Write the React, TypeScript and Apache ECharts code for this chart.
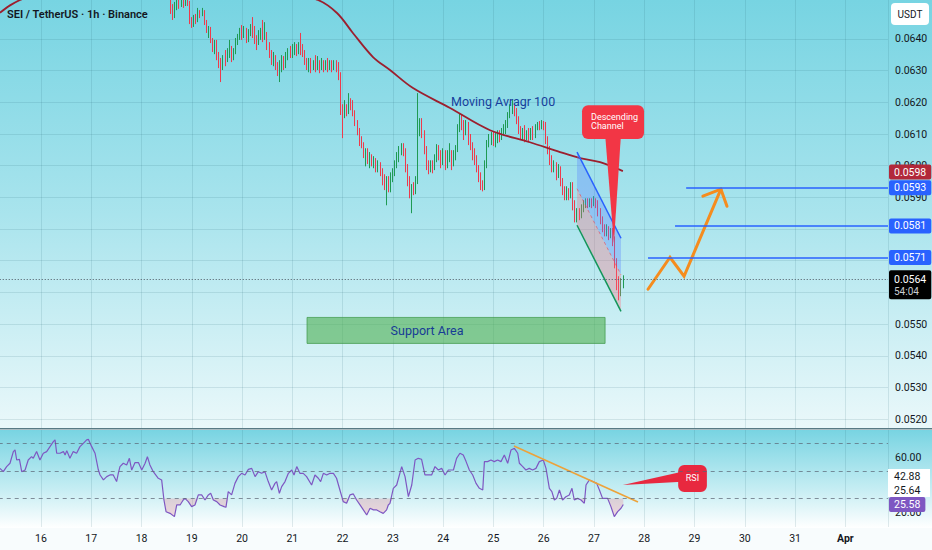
import React, { useEffect, useRef } from "react";
import * as echarts from "echarts";

// Time is measured in hours since 15 March 00:00 (1h candles).
const START_HOUR = 86;
const PRICE_UNIT = 1e-5;
// [open, close, low, high] in units of 0.00001 USDT
const CANDLES: number[][] = [
  [6517, 6498, 6479, 6539], [6498, 6479, 6460, 6510], [6479, 6504, 6466, 6517], [6504, 6514, 6491, 6529],
  [6514, 6507, 6495, 6523], [6507, 6517, 6501, 6532], [6517, 6510, 6498, 6526], [6510, 6520, 6504, 6536],
  [6520, 6514, 6504, 6532], [6514, 6460, 6447, 6520], [6460, 6444, 6435, 6469], [6444, 6466, 6438, 6476],
  [6466, 6460, 6447, 6479], [6460, 6485, 6453, 6498], [6485, 6479, 6466, 6491], [6479, 6485, 6472, 6498],
  [6485, 6453, 6444, 6491], [6453, 6428, 6419, 6460], [6428, 6435, 6403, 6441], [6435, 6397, 6387, 6438],
  [6397, 6371, 6359, 6403], [6371, 6390, 6352, 6397], [6390, 6349, 6333, 6397], [6349, 6327, 6308, 6359],
  [6327, 6314, 6264, 6340], [6314, 6340, 6302, 6349], [6340, 6333, 6314, 6365], [6333, 6359, 6327, 6371],
  [6359, 6365, 6340, 6397], [6365, 6340, 6327, 6378], [6340, 6359, 6333, 6371], [6359, 6390, 6352, 6403],
  [6390, 6403, 6381, 6416], [6403, 6422, 6397, 6435], [6422, 6412, 6397, 6444], [6412, 6428, 6403, 6441],
  [6428, 6397, 6387, 6435], [6397, 6419, 6390, 6431], [6419, 6435, 6409, 6447], [6435, 6428, 6403, 6469],
  [6428, 6397, 6384, 6441], [6397, 6390, 6365, 6412], [6390, 6412, 6381, 6428], [6412, 6422, 6397, 6435],
  [6422, 6403, 6390, 6460], [6403, 6416, 6397, 6453], [6416, 6381, 6365, 6422], [6381, 6349, 6340, 6390],
  [6349, 6327, 6318, 6365], [6327, 6340, 6314, 6359], [6340, 6314, 6302, 6349], [6314, 6302, 6283, 6327],
  [6302, 6314, 6264, 6333], [6314, 6333, 6295, 6349], [6333, 6318, 6302, 6346], [6318, 6346, 6308, 6359],
  [6346, 6359, 6333, 6371], [6359, 6349, 6340, 6378], [6349, 6365, 6340, 6384], [6365, 6371, 6349, 6390],
  [6371, 6359, 6346, 6384], [6359, 6374, 6352, 6390], [6374, 6365, 6349, 6419], [6365, 6356, 6343, 6384],
  [6356, 6327, 6318, 6365], [6327, 6318, 6302, 6340], [6318, 6330, 6295, 6340], [6330, 6308, 6292, 6340],
  [6308, 6324, 6302, 6333], [6324, 6314, 6295, 6349], [6314, 6327, 6302, 6346], [6327, 6311, 6292, 6333],
  [6311, 6324, 6302, 6340], [6324, 6311, 6295, 6333], [6311, 6327, 6302, 6333], [6327, 6314, 6295, 6340],
  [6314, 6324, 6302, 6333], [6324, 6308, 6295, 6333], [6308, 6321, 6302, 6333], [6321, 6314, 6295, 6333],
  [6314, 6286, 6270, 6327], [6286, 6175, 6160, 6295], [6175, 6160, 6087, 6194], [6160, 6182, 6150, 6207],
  [6182, 6169, 6156, 6194], [6169, 6201, 6163, 6229], [6201, 6194, 6175, 6213], [6194, 6169, 6156, 6207],
  [6169, 6138, 6125, 6175], [6138, 6106, 6096, 6144], [6106, 6081, 6062, 6119], [6081, 6065, 6055, 6093],
  [6065, 6033, 6024, 6074], [6033, 6043, 5998, 6055], [6043, 6017, 6005, 6055], [6017, 6024, 5992, 6043],
  [6024, 6011, 5998, 6036], [6011, 6017, 5992, 6030], [6017, 5992, 5979, 6024], [5992, 6002, 5979, 6017],
  [6002, 5979, 5967, 6011], [5979, 5961, 5938, 5992], [5961, 5938, 5923, 5973], [5938, 5954, 5875, 5967],
  [5954, 5929, 5916, 5967], [5929, 5961, 5916, 5979], [5961, 5979, 5948, 5992], [5979, 6002, 5967, 6017],
  [6002, 6024, 5992, 6043], [6024, 6049, 6011, 6062], [6049, 6062, 6033, 6071], [6062, 6043, 6030, 6071],
  [6043, 5992, 5979, 6055], [5992, 5954, 5935, 6005], [5954, 5916, 5897, 5967], [5916, 5929, 5850, 5942],
  [5929, 5923, 5907, 5948], [5923, 5954, 5910, 5967], [5954, 6112, 5942, 6229], [6112, 6119, 6093, 6150],
  [6119, 6100, 6087, 6150], [6100, 6049, 6036, 6112], [6049, 6002, 5986, 6062], [6002, 5992, 5973, 6017],
  [5992, 6002, 5979, 6017], [6002, 5992, 5976, 6017], [5992, 6024, 5986, 6036], [6024, 6055, 6011, 6068],
  [6055, 6033, 6017, 6065], [6033, 6017, 5992, 6049], [6017, 6043, 6002, 6055], [6043, 6002, 5986, 6049],
  [6002, 6024, 5992, 6049], [6024, 6033, 6011, 6071], [6033, 6011, 5986, 6049], [6011, 6033, 5998, 6049],
  [6033, 6049, 6017, 6065], [6049, 6119, 6043, 6131], [6119, 6150, 6106, 6166], [6150, 6128, 6112, 6163],
  [6128, 6112, 6081, 6144], [6112, 6125, 6096, 6144], [6125, 6087, 6065, 6138], [6087, 6065, 6049, 6100],
  [6065, 6043, 6017, 6074], [6043, 6017, 6002, 6055], [6017, 5992, 5979, 6033], [5992, 5970, 5948, 6002],
  [5970, 5935, 5923, 5979], [5935, 5929, 5919, 5954], [5929, 6002, 5923, 6017], [6002, 6071, 5992, 6081],
  [6071, 6081, 6058, 6100], [6081, 6093, 6065, 6106], [6093, 6074, 6062, 6106], [6074, 6087, 6058, 6103],
  [6087, 6096, 6071, 6112], [6096, 6087, 6074, 6112], [6087, 6106, 6081, 6119], [6106, 6119, 6096, 6131],
  [6119, 6128, 6100, 6144], [6128, 6160, 6119, 6169], [6160, 6175, 6150, 6194], [6175, 6182, 6163, 6207],
  [6182, 6169, 6156, 6194], [6169, 6144, 6131, 6182], [6144, 6112, 6100, 6156], [6112, 6093, 6081, 6125],
  [6093, 6106, 6081, 6119], [6106, 6087, 6074, 6128], [6087, 6100, 6081, 6112], [6100, 6087, 6074, 6119],
  [6087, 6106, 6081, 6119], [6106, 6093, 6081, 6125], [6093, 6119, 6087, 6131], [6119, 6128, 6112, 6138],
  [6128, 6122, 6112, 6141], [6122, 6131, 6115, 6144], [6131, 6125, 6112, 6141], [6125, 6081, 6068, 6138],
  [6081, 6049, 6036, 6093], [6049, 6017, 6002, 6062], [6017, 5992, 5979, 6033], [5992, 6002, 5979, 6017],
  [6002, 5970, 5954, 6011], [5970, 5986, 5961, 6005], [5986, 5948, 5935, 5998], [5948, 5923, 5907, 5961],
  [5923, 5907, 5891, 5935], [5907, 5916, 5891, 5935], [5916, 5907, 5891, 5929], [5907, 5938, 5897, 5948],
  [5938, 5875, 5859, 5948], [5875, 5834, 5821, 5891], [5834, 5853, 5821, 5866], [5853, 5844, 5828, 5866],
  [5844, 5859, 5834, 5878], [5859, 5878, 5853, 5891], [5878, 5885, 5866, 5897], [5885, 5875, 5866, 5897],
  [5875, 5885, 5869, 5897], [5885, 5878, 5866, 5897], [5878, 5885, 5872, 5904], [5885, 5875, 5866, 5897],
  [5875, 5853, 5840, 5891], [5853, 5828, 5815, 5866], [5828, 5803, 5790, 5840], [5803, 5790, 5777, 5815],
  [5790, 5803, 5777, 5815], [5803, 5781, 5765, 5809], [5781, 5790, 5771, 5803], [5790, 5765, 5746, 5803],
  [5765, 5695, 5676, 5777], [5695, 5622, 5607, 5708], [5622, 5607, 5575, 5651], [5607, 5629, 5588, 5645],
  [5629, 5640, 5613, 5654],
];

// Moving average 100 (hour, price)
const MA100: number[][] = [
  [4.4, 0.06483], [9.2, 0.06506], [14.0, 0.06523], [30, 0.0657], [60, 0.0661], [100, 0.0661],
  [130, 0.06575], [156.2, 0.06523], [165.3, 0.06482], [172.9, 0.06419], [182.5, 0.06343],
  [190.6, 0.06302], [201.6, 0.06245], [219.3, 0.06182], [238.4, 0.06112], [257.4, 0.06074],
  [271.8, 0.06043], [281.3, 0.06024], [290.9, 0.06011], [301.8, 0.05983],
];

// RSI 14 (hour, value)
const RSI: number[][] = [
  [4.4, 51.9], [6.0, 49.5], [7.6, 53.2], [9.2, 55.6], [10.8, 64.1], [11.6, 65.3], [12.4, 58.0], [13.7, 58.5],
  [14.8, 49.5], [16.4, 50.7], [17.9, 58.0], [19.5, 60.4], [20.3, 59.2], [21.9, 64.1], [23.5, 58.0], [25.1, 62.9],
  [26.7, 64.1], [28.3, 67.7], [29.9, 71.3], [30.7, 72.6], [31.5, 62.9], [33.1, 62.9], [34.7, 64.1], [35.5, 61.6],
  [36.3, 64.8], [37.8, 59.2], [39.4, 64.1], [41.0, 62.9], [42.6, 67.7], [44.2, 70.1], [45.8, 72.6], [46.6, 73.0],
  [48.2, 67.7], [49.8, 62.9], [51.4, 50.7], [52.2, 47.1], [53.8, 43.5], [55.4, 45.9], [56.9, 47.1], [58.5, 47.1],
  [60.1, 42.3], [60.9, 48.3], [61.7, 53.2], [63.3, 55.6], [64.9, 54.4], [66.2, 59.2], [67.3, 50.7], [68.9, 56.1],
  [70.5, 56.1], [72.1, 50.7], [73.7, 55.6], [74.8, 60.4], [76.0, 54.4], [77.6, 49.5], [80.0, 44.7], [81.6, 43.5],
  [82.7, 28.9], [83.7, 20.4], [85.6, 19.2], [87.7, 16.8], [88.8, 25.3], [90.4, 25.3], [91.9, 28.9], [92.7, 30.1],
  [94.3, 27.7], [95.9, 24.1], [97.5, 25.3], [99.1, 32.6], [100.7, 32.6], [102.3, 28.9], [103.9, 32.6], [105.0, 33.8],
  [106.3, 28.9], [107.9, 27.7], [109.5, 25.3], [111.4, 24.1], [112.3, 23.6], [113.4, 35.0], [115.0, 32.6], [116.6, 41.0],
  [118.2, 45.9], [119.8, 48.3], [121.4, 47.1], [123.0, 51.2], [124.6, 51.9], [126.2, 45.9], [127.8, 49.5], [129.3, 48.3],
  [130.9, 49.5], [132.5, 42.3], [134.1, 36.2], [135.7, 41.0], [136.5, 42.3], [137.8, 33.8], [138.9, 38.6], [140.5, 42.3],
  [142.1, 48.3], [143.7, 50.7], [144.8, 47.1], [146.1, 53.2], [147.6, 48.3], [149.2, 48.3], [150.8, 45.9], [153.2, 39.8],
  [154.8, 47.1], [156.4, 44.7], [157.5, 42.3], [158.8, 48.3], [160.4, 47.1], [162.0, 48.3], [163.6, 48.3], [165.1, 44.7],
  [166.7, 36.2], [168.3, 27.7], [169.9, 26.5], [171.5, 32.6], [173.1, 33.3], [174.7, 28.9], [176.3, 25.3], [177.9, 21.7],
  [179.5, 18.0], [181.1, 22.9], [182.7, 21.7], [184.3, 21.7], [185.8, 20.4], [187.4, 19.2], [189.0, 21.7], [189.8, 25.3],
  [190.6, 26.5], [192.2, 37.4], [193.8, 39.8], [196.2, 53.2], [197.8, 45.9], [199.4, 31.3], [201.0, 39.8], [202.6, 58.0],
  [204.1, 59.2], [205.7, 58.5], [207.3, 47.1], [208.9, 47.1], [210.5, 47.1], [212.1, 53.2], [213.7, 50.7], [215.3, 51.9],
  [216.9, 47.1], [218.5, 50.7], [220.9, 50.7], [222.4, 59.2], [224.0, 62.9], [225.6, 61.6], [226.9, 57.0], [228.5, 50.7],
  [230.1, 47.1], [231.7, 41.0], [233.3, 37.4], [234.9, 36.2], [235.7, 56.8], [237.2, 56.8], [238.8, 58.0], [240.4, 56.8],
  [242.0, 58.0], [243.6, 56.8], [245.2, 61.6], [246.8, 55.6], [248.4, 65.3], [250.0, 66.5], [251.6, 62.9], [252.4, 55.6],
  [254.0, 53.2], [255.5, 50.7], [257.1, 51.9], [258.7, 50.7], [260.3, 51.9], [261.9, 56.8], [263.8, 58.0], [265.1, 51.9],
  [266.7, 37.4], [267.9, 35.0], [269.1, 28.9], [270.2, 30.1], [271.5, 36.2], [273.0, 28.9], [274.6, 31.3], [276.2, 32.6],
  [277.5, 37.4], [278.6, 28.9], [280.2, 30.1], [281.8, 28.9], [283.4, 26.5], [284.2, 39.8], [285.8, 43.5], [287.4, 42.3],
  [289.3, 41.0], [290.6, 36.2], [292.1, 30.1], [294.5, 30.1], [296.1, 24.1], [297.7, 16.8], [299.3, 20.4], [300.9, 22.9],
  [302.0, 25.6],
];

const PRICE_TICKS = [0.052, 0.053, 0.054, 0.055, 0.056, 0.057, 0.058, 0.059, 0.06, 0.061, 0.062, 0.063, 0.064];
const RSI_TICKS = [20, 60];
const RSI_LEVELS = [70, 50, 30];
const RSI_OVERSOLD = 30;
const RSI_LAST = 25.58;
const RSI_SIDE_LABELS = ["42.88", "25.64"];
const CURRENT_PRICE = 0.0564;
const COUNTDOWN = "54:04";
const MA_LAST = 0.0598;
const TARGETS = [
  { price: 0.0593, from: 332.0 },
  { price: 0.0581, from: 326.7 },
  { price: 0.0571, from: 313.8 },
];
const PROJECTION: number[][] = [[313.8, 0.0561], [324.3, 0.05711], [331.0, 0.05651], [348.6, 0.05926]];
const PROJECTION_HEAD: number[][] = [[340.0, 0.05904], [348.6, 0.05926], [351.5, 0.05872]];
const CHANNEL_TOP: number[][] = [[279.9, 0.06043], [300.9, 0.05771]];
const CHANNEL_BOTTOM: number[][] = [[279.9, 0.05812], [300.9, 0.0554]];
const SUPPORT = { from: 151.0, to: 293.3, top: 0.05521, bottom: 0.05439, label: "Support Area", labelAt: [208.3, 0.05481] };
const MA_NOTE = { text: "Moving Avragr 100", at: [244.6, 0.06204] };
const CHANNEL_CALLOUT = {
  text: "Descending\nChannel", from: 282.3, to: 311.9, top: 0.06191, bottom: 0.06084,
  textAt: [286.6, 0.06139], base: [[293.3, 0.061], [300.9, 0.061]], tip: [297.5, 0.05755],
};
const RSI_TREND: number[][] = [[249.8, 68.2], [309.0, 27.5]];
const RSI_CALLOUT = {
  text: "RSI", from: 328.2, to: 341.9, top: 54.4, bottom: 34.7, textAt: [335.0, 44.9],
  base: [[330.0, 49.5], [330.0, 42.2]], tip: [301.8, 39.8],
};

// axis extents (layout)
const X_MAX = 428.37;
const Y_MIN = 0.05172;
const Y_MAX = 0.06523;
const RSI_MIN = 9.27;
const RSI_MAX = 79.8;

const FONT = 'Roboto, "Noto Sans", sans-serif';
const UP = "#1f9a53";
const DOWN = "#ee3a4c";
const GRID_LINE = "rgba(30,90,110,0.13)";
const HIDDEN_LINE = { color: "rgba(0,0,0,0)", width: 1, type: "solid" };

function mainAnnotations(_params: any, api: any) {
  const c = (p: number[]) => api.coord(p);
  const tl = c(CHANNEL_TOP[0]);
  const tr = c(CHANNEL_TOP[1]);
  const bl = c(CHANNEL_BOTTOM[0]);
  const br = c(CHANNEL_BOTTOM[1]);
  const ml = [(tl[0] + bl[0]) / 2, (tl[1] + bl[1]) / 2];
  const mr = [(tr[0] + br[0]) / 2, (tr[1] + br[1]) / 2];
  const s1 = c([SUPPORT.from, SUPPORT.top]);
  const s2 = c([SUPPORT.to, SUPPORT.bottom]);
  const sl = c(SUPPORT.labelAt);
  const mn = c(MA_NOTE.at);
  const k1 = c([CHANNEL_CALLOUT.from, CHANNEL_CALLOUT.top]);
  const k2 = c([CHANNEL_CALLOUT.to, CHANNEL_CALLOUT.bottom]);
  const kt = c(CHANNEL_CALLOUT.textAt);
  return {
    type: "group",
    children: [
      { type: "polygon", shape: { points: [tl, tr, mr, ml] }, style: { fill: "rgba(90,130,255,0.33)" } },
      { type: "polygon", shape: { points: [ml, mr, br, bl] }, style: { fill: "rgba(255,110,125,0.32)" } },
      { type: "line", shape: { x1: tl[0], y1: tl[1], x2: tr[0], y2: tr[1] }, style: { stroke: "#2962ff", lineWidth: 1.5 } },
      { type: "line", shape: { x1: bl[0], y1: bl[1], x2: br[0], y2: br[1] }, style: { stroke: "#12965a", lineWidth: 1.5 } },
      { type: "line", shape: { x1: ml[0], y1: ml[1], x2: mr[0], y2: mr[1] }, style: { stroke: "rgba(242,54,69,0.55)", lineWidth: 1, lineDash: [3, 3] } },
      {
        type: "rect",
        shape: { x: s1[0], y: s1[1], width: s2[0] - s1[0], height: s2[1] - s1[1] },
        style: { fill: "rgba(76,175,80,0.6)", stroke: "rgba(60,150,70,0.7)", lineWidth: 1 },
      },
      {
        type: "text", x: sl[0], y: sl[1],
        style: { text: SUPPORT.label, fill: "#173c95", fontSize: 12.5, fontFamily: FONT, align: "center", verticalAlign: "middle", textAlign: "center", textVerticalAlign: "middle" },
      },
      {
        type: "text", x: mn[0], y: mn[1],
        style: { text: MA_NOTE.text, fill: "#173f9c", fontSize: 12.5, fontFamily: FONT, align: "center", verticalAlign: "middle", textAlign: "center", textVerticalAlign: "middle" },
      },
      {
        type: "polyline", shape: { points: PROJECTION.map(c) },
        style: { stroke: "#f58c1e", lineWidth: 3, fill: "none", lineJoin: "miter", lineCap: "round" },
      },
      {
        type: "polyline", shape: { points: PROJECTION_HEAD.map(c) },
        style: { stroke: "#f58c1e", lineWidth: 3, fill: "none", lineJoin: "miter", lineCap: "round" },
      },
      {
        type: "polygon",
        shape: { points: [c(CHANNEL_CALLOUT.base[0]), c(CHANNEL_CALLOUT.base[1]), c(CHANNEL_CALLOUT.tip)] },
        style: { fill: "#f23645" },
      },
      {
        type: "rect",
        shape: { x: k1[0], y: k1[1], width: k2[0] - k1[0], height: k2[1] - k1[1], r: 6 },
        style: { fill: "#f23645" },
      },
      {
        type: "text", x: kt[0], y: kt[1],
        style: { text: CHANNEL_CALLOUT.text, fill: "#ffffff", fontSize: 9, lineHeight: 9.5, fontFamily: FONT, align: "left", verticalAlign: "middle", textAlign: "left", textVerticalAlign: "middle" },
      },
    ],
  };
}

function rsiAnnotations(_params: any, api: any) {
  const c = (p: number[]) => api.coord(p);
  const a = c(RSI_TREND[0]);
  const b = c(RSI_TREND[1]);
  const r1 = c([RSI_CALLOUT.from, RSI_CALLOUT.top]);
  const r2 = c([RSI_CALLOUT.to, RSI_CALLOUT.bottom]);
  const rt = c(RSI_CALLOUT.textAt);
  return {
    type: "group",
    children: [
      { type: "line", shape: { x1: a[0], y1: a[1], x2: b[0], y2: b[1] }, style: { stroke: "#eda23a", lineWidth: 1.6 } },
      {
        type: "polygon",
        shape: { points: [c(RSI_CALLOUT.base[0]), c(RSI_CALLOUT.base[1]), c(RSI_CALLOUT.tip)] },
        style: { fill: "#e8283f" },
      },
      {
        type: "rect",
        shape: { x: r1[0], y: r1[1], width: r2[0] - r1[0], height: r2[1] - r1[1], r: 6 },
        style: { fill: "#e8283f" },
      },
      {
        type: "text", x: rt[0], y: rt[1],
        style: { text: RSI_CALLOUT.text, fill: "#ffffff", fontSize: 9, fontFamily: FONT, align: "center", verticalAlign: "middle", textAlign: "center", textVerticalAlign: "middle" },
      },
    ],
  };
}

const boxLabel = (text: string, bg: string, color = "#ffffff") => ({
  show: true,
  position: "end",
  distance: 1,
  formatter: text,
  backgroundColor: bg,
  color,
  fontSize: 10.5,
  fontFamily: FONT,
  padding: [2, 5, 2, 5],
  borderRadius: 2,
});

// a horizontal mark line between two hours at a value, with its right-side label
const hLine = (from: number, to: number, value: number, lineStyle: any, label: any) => [
  { coord: [from, value], lineStyle, label },
  { coord: [to, value] },
];

export default function App() {
  const ref = useRef<HTMLDivElement>(null);

  useEffect(() => {
    if (!ref.current) return;
    const chart = echarts.init(ref.current, undefined, { renderer: "svg" });

    const candleData = CANDLES.map((k, i) => [START_HOUR + i, k[0] * PRICE_UNIT, k[1] * PRICE_UNIT, k[2] * PRICE_UNIT, k[3] * PRICE_UNIT]);
    const oversold = RSI.map(([h, v]) => [h, Math.min(v, RSI_OVERSOLD)]);

    const option: any = {
      animation: false,
      textStyle: { fontFamily: FONT },
      graphic: [
        {
          type: "rect", z: -10, silent: true,
          shape: { x: 0, y: 0, width: 932, height: 428 },
          style: {
            fill: { type: "linear", x: 0, y: 0, x2: 0, y2: 1, colorStops: [
              { offset: 0, color: "#77d4e2" }, { offset: 0.5, color: "#a9e4ed" }, { offset: 1, color: "#eaf8fa" },
            ] },
          },
        },
        {
          type: "rect", z: -10, silent: true,
          shape: { x: 0, y: 430, width: 932, height: 98 },
          style: {
            fill: { type: "linear", x: 0, y: 0, x2: 0, y2: 1, colorStops: [
              { offset: 0, color: "#78d4e2" }, { offset: 0.6, color: "#c5edf3" }, { offset: 1, color: "#ffffff" },
            ] },
          },
        },
        { type: "rect", z: -10, silent: true, shape: { x: 0, y: 528, width: 932, height: 22 }, style: { fill: "#f8fcfd" } },
        { type: "rect", z: 50, silent: true, shape: { x: 0, y: 428, width: 932, height: 1.6 }, style: { fill: "#587a84" } },
        {
          type: "text", z: 50, x: 7, y: 14,
          style: { text: "SEI / TetherUS · 1h · Binance", fill: "#131722", fontSize: 11, fontWeight: 600, fontFamily: FONT, verticalAlign: "middle", textVerticalAlign: "middle" },
        },
        { type: "rect", z: 50, shape: { x: 891, y: 3, width: 38, height: 22, r: 4 }, style: { fill: "#ffffff" } },
        {
          type: "text", z: 51, x: 910, y: 14,
          style: { text: "USDT", fill: "#131722", fontSize: 10, fontFamily: FONT, align: "center", verticalAlign: "middle", textAlign: "center", textVerticalAlign: "middle" },
        },
        { type: "rect", z: 50, shape: { x: 888, y: 469, width: 42, height: 28 }, style: { fill: "#ffffff" } },
        {
          type: "text", z: 51, x: 894, y: 476,
          style: { text: RSI_SIDE_LABELS[0], fill: "#131722", fontSize: 10.5, fontFamily: FONT, verticalAlign: "middle", textVerticalAlign: "middle" },
        },
        {
          type: "text", z: 51, x: 894, y: 490,
          style: { text: RSI_SIDE_LABELS[1], fill: "#131722", fontSize: 10.5, fontFamily: FONT, verticalAlign: "middle", textVerticalAlign: "middle" },
        },
      ],
      grid: [
        { left: -9.27, right: 44, top: 0, height: 428, outerBoundsMode: "none" },
        { left: -9.27, right: 44, top: 430, height: 97, outerBoundsMode: "none" },
      ],
      xAxis: [
        {
          type: "value", gridIndex: 0, min: 0, max: X_MAX, interval: 24,
          axisLine: { show: false }, axisTick: { show: false }, axisLabel: { show: false },
          splitLine: { show: true, lineStyle: { color: GRID_LINE, width: 1 } },
        },
        {
          type: "value", gridIndex: 1, min: 0, max: X_MAX, interval: 24,
          axisLine: { show: false }, axisTick: { show: false },
          axisLabel: {
            show: true, color: "#131722", fontSize: 10.5, margin: 6,
            showMinLabel: false, showMaxLabel: false,
            formatter: (v: number) => {
              const d = 15 + Math.round(v / 24);
              return d > 31 ? "{b|Apr}" : String(d);
            },
            rich: { b: { fontWeight: "bold", fontSize: 10.5, color: "#131722" } },
          },
          splitLine: { show: true, lineStyle: { color: GRID_LINE, width: 1 } },
        },
      ],
      yAxis: [
        {
          type: "value", gridIndex: 0, position: "right", min: Y_MIN, max: Y_MAX,
          axisLine: { show: true, lineStyle: { color: "rgba(30,90,110,0.12)" } },
          axisTick: { show: false, customValues: PRICE_TICKS },
          axisLabel: { show: true, customValues: PRICE_TICKS, color: "#131722", fontSize: 10.5, margin: 7, formatter: (v: number) => v.toFixed(4) },
          splitLine: { show: true, lineStyle: { color: GRID_LINE, width: 1 } },
        },
        {
          type: "value", gridIndex: 1, position: "right", min: RSI_MIN, max: RSI_MAX,
          axisLine: { show: true, lineStyle: { color: "rgba(30,90,110,0.12)" } },
          axisTick: { show: false, customValues: RSI_TICKS },
          axisLabel: { show: true, customValues: RSI_TICKS, color: "#131722", fontSize: 10.5, margin: 7, formatter: (v: number) => v.toFixed(2) },
          splitLine: { show: false },
        },
      ],
      series: [
        {
          type: "candlestick", name: "SEIUSDT", xAxisIndex: 0, yAxisIndex: 0, clip: true,
          dimensions: ["t", "open", "close", "lowest", "highest"],
          encode: { x: "t", y: ["open", "close", "lowest", "highest"] },
          data: candleData,
          barWidth: 1.2,
          itemStyle: { color: UP, color0: DOWN, borderColor: UP, borderColor0: DOWN, borderWidth: 1 },
          markLine: {
            silent: true, symbol: ["none", "none"], animation: false,
            data: [
              hLine(0, X_MAX, CURRENT_PRICE, { color: "#4b5560", type: [1, 2], width: 1 }, {
                show: true, position: "end", distance: 1, backgroundColor: "#000000",
                padding: [3, 5, 2, 5], borderRadius: 2, offset: [0, 5],
                formatter: `{a|${CURRENT_PRICE.toFixed(4)}}\n{b|${COUNTDOWN}}`,
                rich: {
                  a: { color: "#ffffff", fontSize: 10.5, lineHeight: 12, fontFamily: FONT },
                  b: { color: "#c9cdd1", fontSize: 10, lineHeight: 12, fontFamily: FONT },
                },
              }),
              ...TARGETS.map((t) =>
                hLine(t.from, X_MAX, t.price, { color: "#2962ff", width: 1.5, type: "solid" }, boxLabel(t.price.toFixed(4), "#2962ff"))
              ),
              hLine(0, X_MAX, MA_LAST, HIDDEN_LINE, boxLabel(MA_LAST.toFixed(4), "#b2283a")),
            ],
          },
        },
        {
          type: "line", name: "MA100", xAxisIndex: 0, yAxisIndex: 0, data: MA100, smooth: 0.35,
          symbol: "none", clip: true, lineStyle: { color: "#9c1f2e", width: 1.8 },
          z: 3,
        },
        {
          type: "custom", xAxisIndex: 0, yAxisIndex: 0, data: [[START_HOUR, CURRENT_PRICE]],
          renderItem: mainAnnotations, silent: true, z: 4,
        },
        {
          type: "line", name: "RSI oversold", xAxisIndex: 1, yAxisIndex: 1, data: oversold,
          symbol: "none", lineStyle: { width: 0 },
          areaStyle: { origin: RSI_OVERSOLD, color: "rgba(242,70,90,0.28)" },
          silent: true, z: 2,
        },
        {
          type: "line", name: "RSI", xAxisIndex: 1, yAxisIndex: 1, data: RSI,
          symbol: "none", lineStyle: { color: "#7e57c2", width: 1.2 }, z: 3,
          markLine: {
            silent: true, symbol: ["none", "none"], animation: false,
            data: [
              ...RSI_LEVELS.map((v) =>
                hLine(0, X_MAX, v, { color: "rgba(90,100,115,0.7)", type: [4, 4], width: 1 }, { show: false })
              ),
              hLine(0, X_MAX, RSI_LAST, HIDDEN_LINE, boxLabel(RSI_LAST.toFixed(2), "#7e57c2")),
            ],
          },
        },
        {
          type: "custom", xAxisIndex: 1, yAxisIndex: 1, data: [[START_HOUR, 50]],
          renderItem: rsiAnnotations, silent: true, z: 4,
        },
      ],
    };

    chart.setOption(option);
    return () => chart.dispose();
  }, []);

  return (
    <div
      ref={ref}
      style={{ position: "fixed", left: 0, top: 0, width: 932, height: 550, background: "#ffffff" }}
    />
  );
}
